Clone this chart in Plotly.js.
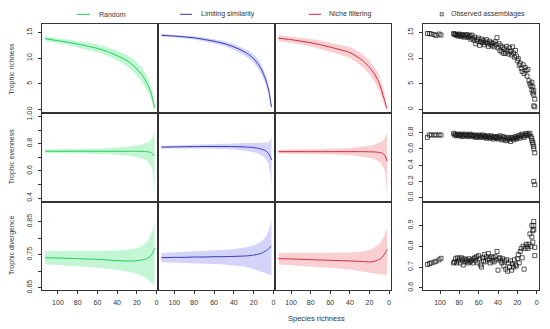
<!DOCTYPE html>
<html>
<head>
<meta charset="utf-8">
<script src="https://cdn.plot.ly/plotly-3.0.1.min.js"></script>
<style>html,body{margin:0;padding:0;background:#fff;}#chart{width:550px;height:329px;}</style>
</head>
<body>
<div id="chart"></div>
<script>
// ---------- data ----------
const modelNames = ["Random", "Limiting similarity", "Niche filtering"];
const rowTitles = ["Trophic richness", "Trophic evenness", "Trophic divergence"];
const xTicks = [100, 80, 60, 40, 20, 0];

// species richness grid of the null models
const S = [113,100,90,80,70,60,50,40,30,25,20,15,12,10,8,6,5,4,3,2];

// Trophic richness
const randomRichMean = [13.8,13.4,13.1,12.75,12.35,11.9,11.3,10.5,9.5,8.8,7.9,6.8,5.9,5.2,4.4,3.5,2.9,2.1,1.2,0.3];
const randomRichHi   = [14.25,13.9,13.65,13.35,13.05,12.65,12.15,11.45,10.6,10.0,9.2,8.2,7.35,6.65,5.8,4.8,4.1,3.2,2.1,0.9];
const randomRichLo   = [13.35,12.9,12.55,12.15,11.65,11.15,10.45,9.55,8.4,7.6,6.6,5.4,4.45,3.75,3.0,2.2,1.7,1.0,0.3,0];
const limitRichMean  = [14.45,14.3,14.15,13.95,13.65,13.3,12.85,12.2,11.3,10.7,9.9,8.7,7.7,6.85,5.9,4.6,3.8,2.9,1.6,0.5];
const limitRichHi    = [14.7,14.58,14.45,14.28,14.03,13.73,13.35,12.78,11.98,11.45,10.72,9.6,8.65,7.85,6.9,5.6,4.8,3.85,2.5,1.0];
const limitRichLo    = [14.2,14.02,13.85,13.62,13.27,12.87,12.35,11.62,10.62,9.95,9.08,7.8,6.75,5.85,4.9,3.6,2.8,1.95,0.7,0];
const nicheRichMean  = [13.9,13.6,13.3,13.0,12.6,12.15,11.65,11.1,9.95,9.2,8.2,6.9,5.9,5.1,4.0,2.7,2.1,1.4,0.7,0.2];
const nicheRichHi    = [14.45,14.2,13.95,13.72,13.4,13.03,12.6,12.15,11.15,10.48,9.55,8.35,7.4,6.6,5.45,4.05,3.35,2.5,1.5,0.6];
const nicheRichLo    = [13.35,13.0,12.65,12.28,11.8,11.27,10.7,10.05,8.75,7.92,6.85,5.45,4.4,3.6,2.55,1.35,0.85,0.3,0,0];

// Trophic evenness
const randomEvenMean = [0.745,0.745,0.745,0.745,0.745,0.745,0.745,0.745,0.745,0.745,0.745,0.744,0.743,0.742,0.74,0.736,0.732,0.726,0.718,0.71];
const randomEvenHi   = [0.757,0.758,0.759,0.76,0.762,0.764,0.767,0.771,0.777,0.781,0.787,0.794,0.801,0.807,0.815,0.826,0.833,0.843,0.86,0.89];
const randomEvenLo   = [0.733,0.732,0.731,0.73,0.728,0.726,0.723,0.719,0.713,0.709,0.703,0.694,0.685,0.677,0.665,0.645,0.63,0.6,0.55,0.44];
const limitEvenMean  = [0.775,0.777,0.778,0.779,0.78,0.78,0.78,0.779,0.777,0.775,0.772,0.766,0.76,0.755,0.748,0.736,0.727,0.715,0.7,0.68];
const limitEvenHi    = [0.785,0.788,0.79,0.792,0.794,0.796,0.798,0.8,0.803,0.804,0.806,0.806,0.806,0.806,0.806,0.808,0.81,0.815,0.83,0.86];
const limitEvenLo    = [0.765,0.766,0.766,0.766,0.766,0.764,0.762,0.758,0.751,0.746,0.738,0.726,0.714,0.704,0.69,0.668,0.652,0.625,0.58,0.47];
const nicheEvenMean  = [0.742,0.742,0.742,0.742,0.742,0.742,0.742,0.742,0.742,0.742,0.741,0.74,0.738,0.736,0.733,0.727,0.72,0.71,0.695,0.67];
const nicheEvenHi    = [0.756,0.757,0.758,0.759,0.76,0.762,0.765,0.769,0.775,0.779,0.785,0.793,0.8,0.806,0.814,0.826,0.835,0.848,0.865,0.89];
const nicheEvenLo    = [0.728,0.727,0.726,0.725,0.724,0.722,0.719,0.715,0.709,0.705,0.697,0.687,0.676,0.666,0.652,0.63,0.612,0.585,0.54,0.43];

// Trophic divergence
const randomDivMean  = [0.741,0.740,0.739,0.738,0.737,0.736,0.734,0.732,0.731,0.731,0.732,0.734,0.736,0.738,0.741,0.746,0.75,0.755,0.762,0.77];
const randomDivHi    = [0.761,0.761,0.761,0.761,0.761,0.762,0.762,0.763,0.765,0.767,0.770,0.776,0.782,0.788,0.796,0.808,0.815,0.824,0.835,0.85];
const randomDivLo    = [0.721,0.719,0.717,0.715,0.713,0.711,0.708,0.704,0.699,0.696,0.692,0.686,0.681,0.677,0.672,0.666,0.664,0.662,0.66,0.658];
const limitDivMean   = [0.741,0.742,0.742,0.743,0.743,0.744,0.744,0.745,0.746,0.747,0.749,0.752,0.755,0.758,0.761,0.765,0.768,0.771,0.774,0.777];
const limitDivHi     = [0.755,0.757,0.759,0.761,0.762,0.762,0.764,0.767,0.771,0.774,0.778,0.785,0.791,0.797,0.805,0.816,0.823,0.832,0.842,0.852];
const limitDivLo     = [0.727,0.726,0.725,0.724,0.723,0.722,0.72,0.718,0.714,0.711,0.707,0.702,0.699,0.697,0.694,0.692,0.691,0.69,0.689,0.688];
const nicheDivMean   = [0.738,0.737,0.736,0.735,0.734,0.733,0.732,0.731,0.73,0.729,0.728,0.73,0.733,0.736,0.74,0.746,0.75,0.755,0.76,0.766];
const nicheDivHi     = [0.755,0.755,0.755,0.755,0.755,0.755,0.756,0.757,0.759,0.761,0.764,0.771,0.777,0.783,0.79,0.8,0.807,0.815,0.822,0.83];
const nicheDivLo     = [0.72,0.718,0.716,0.714,0.712,0.71,0.708,0.705,0.701,0.699,0.696,0.693,0.692,0.691,0.69,0.69,0.689,0.689,0.688,0.688];

// Observed assemblages
const obsS    = [113,111,109,106,104,101,99,
  86,85,84,83,82,81,80,79,78,77,76,75,74,73,72,71,70,69,68,67,66,65,64,63,62,61,60,59,58,57,56,55,54,53,52,51,50,49,48,47,46,45,44,43,42,41,40,39,38,37,36,35,34,33,32,31,30,29,28,27,26,25,24,23,22,21,20,19,18,17,16,15,14,13,12,11,10,9,8,7,6,5,5,4,4,3,3,3,2,2];
const obsRich = [14.8,14.8,14.7,14.6,14.4,14.7,14.5,
  14.8,14.6,14.7,14.4,14.6,14.3,14.7,14.5,14.2,14.6,14.4,14.1,14.5,14.3,14.6,14.0,14.2,14.4,13.7,14.5,13.9,13.5,14.1,12.8,13.6,13.3,13.9,12.5,13.2,13.7,13.0,13.4,12.6,13.1,13.6,12.9,12.3,13.3,12.7,13.0,12.4,12.9,12.2,13.2,12.6,14.0,12.0,12.8,11.5,12.4,11.2,12.1,10.9,11.8,11.0,12.3,11.4,10.8,12.0,11.3,10.6,12.2,11.0,10.2,11.5,10.4,9.5,9.9,8.6,9.0,8.0,7.4,8.7,7.0,8.2,7.6,6.5,7.8,5.6,5.0,4.6,3.8,5.3,3.2,4.4,2.8,3.6,0.7,2.0,0.5];
const obsEven = [0.74,0.77,0.77,0.77,0.77,0.77,0.77,
  0.79,0.77,0.78,0.76,0.77,0.78,0.76,0.77,0.78,0.75,0.77,0.76,0.78,0.77,0.76,0.75,0.77,0.78,0.76,0.77,0.75,0.76,0.77,0.74,0.76,0.75,0.77,0.74,0.76,0.75,0.77,0.74,0.76,0.75,0.73,0.76,0.74,0.75,0.73,0.76,0.74,0.72,0.75,0.74,0.73,0.75,0.72,0.74,0.76,0.73,0.71,0.75,0.72,0.74,0.70,0.73,0.71,0.74,0.72,0.69,0.73,0.74,0.71,0.73,0.75,0.72,0.74,0.76,0.73,0.77,0.75,0.78,0.76,0.74,0.77,0.79,0.76,0.78,0.77,0.79,0.75,0.73,0.70,0.68,0.66,0.63,0.60,0.20,0.55,0.16];
const obsDiv  = [0.712,0.717,0.72,0.724,0.728,0.735,0.742,
  0.72,0.725,0.74,0.72,0.745,0.73,0.74,0.72,0.745,0.735,0.71,0.74,0.725,0.735,0.73,0.72,0.74,0.725,0.73,0.735,0.72,0.74,0.745,0.73,0.75,0.72,0.755,0.74,0.71,0.70,0.745,0.73,0.76,0.725,0.75,0.735,0.765,0.74,0.72,0.75,0.73,0.745,0.725,0.75,0.735,0.775,0.685,0.74,0.745,0.73,0.72,0.74,0.705,0.73,0.69,0.735,0.68,0.72,0.70,0.73,0.685,0.715,0.70,0.735,0.71,0.705,0.74,0.76,0.72,0.775,0.79,0.745,0.80,0.69,0.79,0.81,0.80,0.79,0.81,0.86,0.80,0.845,0.90,0.82,0.875,0.92,0.88,0.90,0.795,0.755];

// ---------- styles ----------
const lineColors = ["#22cc55", "#3535b5", "#d0283c"];
const bandColors = ["rgba(120,235,160,0.45)", "rgba(170,170,245,0.5)", "rgba(245,160,165,0.5)"];
const models = [
  [[randomRichMean, randomRichLo, randomRichHi], [limitRichMean, limitRichLo, limitRichHi], [nicheRichMean, nicheRichLo, nicheRichHi]],
  [[randomEvenMean, randomEvenLo, randomEvenHi], [limitEvenMean, limitEvenLo, limitEvenHi], [nicheEvenMean, nicheEvenLo, nicheEvenHi]],
  [[randomDivMean, randomDivLo, randomDivHi], [limitDivMean, limitDivLo, limitDivHi], [nicheDivMean, nicheDivLo, nicheDivHi]]
];
const obsRows = [obsRich, obsEven, obsDiv];

const W = 550, H = 329;
const colPx = [[41.7,158],[158,275],[275,390.5],[423,539]];
const rowPx = [[24.3,113],[113,201.7],[201.7,290.3]];
const leftYRanges = [[-0.7,16.6],[0.373,1.027],[0.642,0.911]];
const rightYRanges = [[-0.7,16.6],[-0.05,1.04],[0.588,1.015]];
const leftYTicks = [
  {v:[0,5,10,15], t:["0","5","10","15"]},
  {v:[0.4,0.5,0.6,0.7,0.8,0.9,1.0], t:["0.4","","0.6","","0.8","","1.0"]},
  {v:[0.65,0.70,0.75,0.80,0.85], t:["0.65","","0.75","","0.85"]}
];
const rightYTicks = [
  {v:[0,5,10,15], t:["0","5","10","15"]},
  {v:[0,0.2,0.4,0.6,0.8], t:["0.0","0.2","0.4","0.6","0.8"]},
  {v:[0.6,0.7,0.8,0.9], t:["0.6","0.7","0.8","0.9"]}
];

const fontFam = "Liberation Sans, Arial, sans-serif";
const txtCol = "#333333";
const traces = [];
const layout = {
  width: W, height: H, margin: {l:0, r:0, t:0, b:0},
  paper_bgcolor: "#fff", plot_bgcolor: "#fff", showlegend: false,
  font: {family: fontFam, size: 7, color: txtCol},
  annotations: [], shapes: []
};

for (let r = 0; r < 3; r++) {
  for (let c = 0; c < 4; c++) {
    const i = r * 4 + c + 1;
    const xa = "xaxis" + (i === 1 ? "" : i), ya = "yaxis" + (i === 1 ? "" : i);
    const xr = "x" + (i === 1 ? "" : i), yr = "y" + (i === 1 ? "" : i);
    const bottom = r === 2, leftCol = c === 0 || c === 3;
    layout[xa] = {
      domain: [colPx[c][0] / W, colPx[c][1] / W], anchor: yr,
      range: c === 3 ? [117.6, -2.4] : [116.5, -1.5],
      showline: true, mirror: true, linecolor: "#333", linewidth: 1,
      showgrid: false, zeroline: false,
      ticks: bottom ? "outside" : "", ticklen: 3, tickcolor: "#333", tickwidth: 1,
      tickvals: xTicks, showticklabels: bottom, ticklabelstandoff: 2,
      tickfont: {size: 7, color: txtCol, family: fontFam}
    };
    const yt = c === 3 ? rightYTicks[r] : leftYTicks[r];
    layout[ya] = {
      domain: [1 - rowPx[r][1] / H, 1 - rowPx[r][0] / H], anchor: xr,
      range: c === 3 ? rightYRanges[r] : leftYRanges[r],
      showline: true, mirror: true, linecolor: "#333", linewidth: 1,
      showgrid: false, zeroline: false,
      ticks: leftCol ? "outside" : "", ticklen: 3, tickcolor: "#333", tickwidth: 1,
      tickvals: yt.v, ticktext: yt.t, showticklabels: leftCol, tickangle: -90,
      ticklabelstandoff: 3,
      tickfont: {size: 7, color: txtCol, family: fontFam}
    };
    if (c < 3) {
      const [m, lo, hi] = models[r][c];
      traces.push({
        type: "scatter", mode: "lines", xaxis: xr, yaxis: yr,
        x: S.concat(S.slice().reverse()), y: hi.concat(lo.slice().reverse()),
        fill: "toself", fillcolor: bandColors[c], line: {width: 0}, hoverinfo: "skip"
      });
      traces.push({
        type: "scatter", mode: "lines", xaxis: xr, yaxis: yr,
        x: S, y: m, line: {color: lineColors[c], width: 1, shape: "spline", smoothing: 0.6},
        name: modelNames[c]
      });
    } else {
      traces.push({
        type: "scatter", mode: "markers", xaxis: xr, yaxis: yr,
        x: obsS, y: obsRows[r], name: "Observed assemblages",
        marker: {symbol: "square-open", size: 4, color: "#111", line: {width: 0.7, color: "#111"}}
      });
    }
  }
  layout.annotations.push({
    xref: "paper", yref: "paper", x: 12 / W, y: 1 - (rowPx[r][0] + rowPx[r][1]) / 2 / H,
    text: rowTitles[r], showarrow: false, textangle: -90,
    font: {size: 7, color: txtCol, family: fontFam}, xanchor: "center", yanchor: "middle"
  });
}

layout.annotations.push({
  xref: "paper", yref: "paper", x: 316.5 / W, y: 1 - 318 / H,
  text: "Species richness", showarrow: false,
  font: {size: 7.5, color: txtCol, family: fontFam}, xanchor: "center", yanchor: "middle"
});

// legend (drawn above the columns)
const legY = 14.3;
const legItems = [
  {x0: 76.7, x1: 90, tx: 96.5, text: modelNames[0], col: lineColors[0]},
  {x0: 180, x1: 192, tx: 199, text: modelNames[1], col: lineColors[1]},
  {x0: 309, x1: 321, tx: 326.5, text: modelNames[2], col: lineColors[2]}
];
legItems.forEach(it => {
  layout.shapes.push({type: "line", xref: "paper", yref: "paper",
    x0: it.x0 / W, x1: it.x1 / W, y0: 1 - legY / H, y1: 1 - legY / H,
    line: {color: it.col, width: 1}});
  layout.annotations.push({xref: "paper", yref: "paper", x: it.tx / W, y: 1 - legY / H,
    text: it.text, showarrow: false, xanchor: "left", yanchor: "middle",
    font: {size: 7, color: txtCol, family: fontFam}});
});
layout.shapes.push({type: "rect", xref: "paper", yref: "paper",
  x0: 440.2 / W, x1: 443.2 / W, y0: 1 - (legY + 1.5) / H, y1: 1 - (legY - 1.5) / H,
  line: {color: "#111", width: 0.7}});
layout.annotations.push({xref: "paper", yref: "paper", x: 449 / W, y: 1 - legY / H,
  text: "Observed assemblages", showarrow: false, xanchor: "left", yanchor: "middle",
  font: {size: 7, color: txtCol, family: fontFam}});

Plotly.newPlot("chart", traces, layout, {staticPlot: true, displayModeBar: false});
</script>
</body>
</html>
